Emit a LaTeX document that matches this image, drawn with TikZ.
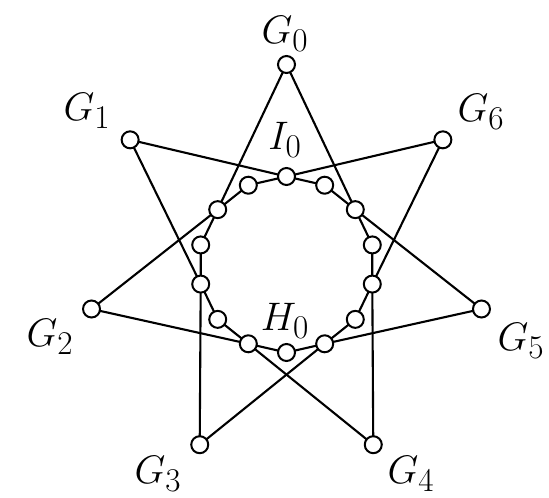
\documentclass[tikz,border=0pt]{standalone}
\pgfdeclarelayer{background}
\pgfsetlayers{background,main}
\tikzset{
  vtx/.style={circle,draw,line width=2pt,fill=white,inner sep=0pt,minimum size=17pt},
  edge/.style={line width=2.1pt},
  lbl/.style={inner sep=0pt,font=\Huge,scale=1.6,transform shape}
}
\begin{document}
\begin{tikzpicture}[x=1pt,y=-1pt]
\useasboundingbox (0,0) rectangle (549,498);
% inner 14-cycle
\foreach \k in {0,...,13}{
  \node[vtx] (i\k) at ({286.5+88*cos(90-\k*360/14)},{264.5-88*sin(90-\k*360/14)}) {};
}
% outer heptagon vertices
\foreach \j in {0,...,6}{
  \node[vtx] (g\j) at ({286.5+200*cos(90+\j*360/7)},{264.5-200*sin(90+\j*360/7)}) {};
}
% labels
\node[lbl] (l0) at (285,34) {$G_0$};
\node[lbl] (l1) at (87,111) {$G_1$};
\node[lbl] (l2) at (50,337) {$G_2$};
\node[lbl] (l3) at (158,474) {$G_3$};
\node[lbl] (l4) at (411,474) {$G_4$};
\node[lbl] (l5) at (521,341) {$G_5$};
\node[lbl] (l6) at (481,112) {$G_6$};
\node[lbl] (lI) at (285,140) {$I_0$};
\node[lbl] (lH) at (285,321) {$H_0$};
\begin{pgfonlayer}{background}
\foreach \k [evaluate=\k as \n using {int(mod(\k+1,14))}] in {0,...,13}{
  \draw[edge] (i\k.center) -- (i\n.center);
}
\foreach \a/\b in {g0/i12,g0/i2,g1/i0,g1/i10,g2/i12,g2/i8,g3/i10,g3/i6,g4/i8,g4/i4,g5/i6,g5/i2,g6/i4,g6/i0}{
  \draw[edge] (\a.center) -- (\b.center);
}
\end{pgfonlayer}
\end{tikzpicture}
\end{document}
